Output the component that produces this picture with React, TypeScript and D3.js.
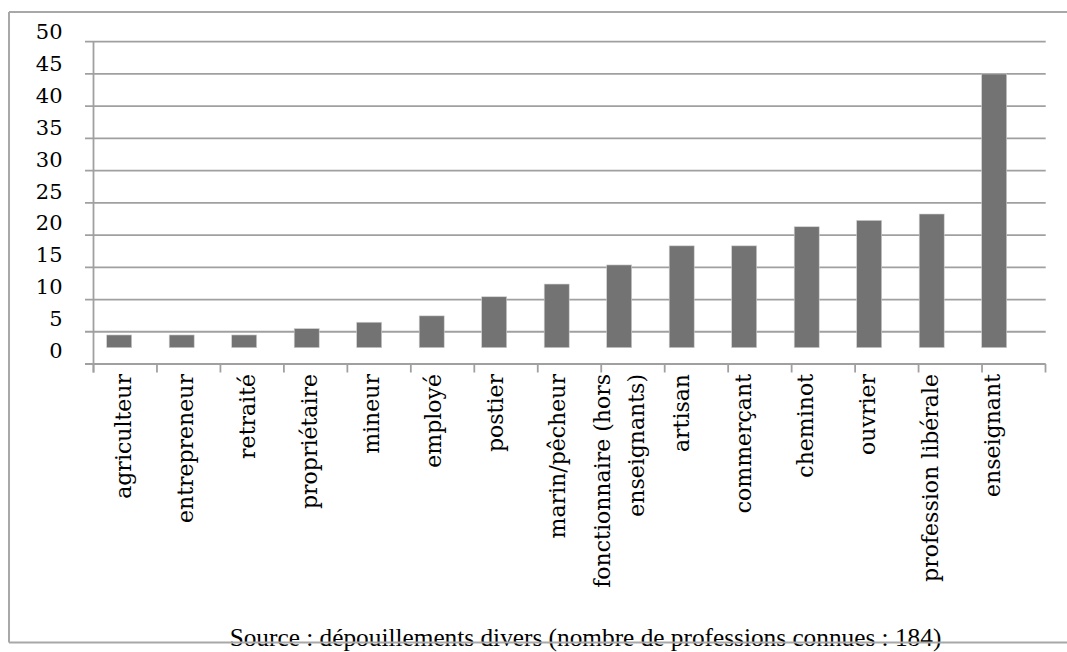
import React from "react";
import * as d3 from "d3";

const categories: string[] = [
  "agriculteur",
  "entrepreneur",
  "retraité",
  "propriétaire",
  "mineur",
  "employé",
  "postier",
  "marin/pêcheur",
  "fonctionnaire (hors|enseignants)",
  "artisan",
  "commerçant",
  "cheminot",
  "ouvrier",
  "profession libérale",
  "enseignant",
];
const values: number[] = [2, 2, 2, 3, 4, 5, 8, 10, 13, 16, 16, 19, 20, 21, 43];
const tickValues: number[] = [0, 5, 10, 15, 20, 25, 30, 35, 40, 45, 50];
const sourceText = "Source : dépouillements divers (nombre de professions connues : 184)";

const W = 1067;
const H = 652;

export default function App() {
  // value scale for bars and tick labels
  const y = d3.scaleLinear().domain([0, 50]).range([347.7, 29.4]);
  // gridline scale (rendered offset in the original)
  const yGrid = d3.scaleLinear().domain([0, 50]).range([364, 41.7]);
  // axis ticks band
  const xAxis = d3.scaleBand<string>().domain(categories).range([93.5, 1045.5]);
  // bars band
  const xBar = d3
    .scaleBand<string>()
    .domain(categories)
    .range([87.95, 1025.45])
    .paddingInner(0.6)
    .paddingOuter(0.3);
  // label positions
  const xLabel = d3.scalePoint<string>().domain(categories).range([125, 993.6]);

  const gridColor = "#a0a0a0";
  const serif = "'DejaVu Serif', serif";

  const axisTicks = categories.map((c) => xAxis(c) as number).concat([xAxis.range()[1]]);

  return (
    <svg
      width={W}
      height={H}
      style={{ position: "absolute", left: 0, top: 0, display: "block", background: "#fff" }}
    >
      <rect x={0} y={0} width={W} height={H} fill="#fff" />
      {/* gridlines */}
      {tickValues.map((t) => (
        <line
          key={"g" + t}
          x1={85}
          x2={1045.7}
          y1={yGrid(t)}
          y2={yGrid(t)}
          stroke={gridColor}
          strokeWidth={1.8}
        />
      ))}
      {/* y axis line */}
      <line x1={93.5} x2={93.5} y1={yGrid(50)} y2={372.5} stroke={gridColor} strokeWidth={1.8} />
      {/* x axis ticks */}
      {axisTicks.map((x, i) => (
        <line key={"t" + i} x1={x} x2={x} y1={364} y2={372.5} stroke={gridColor} strokeWidth={1.8} />
      ))}
      {/* tick labels */}
      {tickValues.map((t) => (
        <text
          key={"l" + t}
          x={62.5}
          y={y(t) + 10}
          textAnchor="end"
          fontFamily={serif}
          fontSize={21}
          fill="#000"
        >
          {t}
        </text>
      ))}
      {/* bars */}
      {categories.map((c, i) => (
        <rect
          key={"b" + c}
          x={xBar(c) as number}
          y={y(values[i])}
          width={xBar.bandwidth()}
          height={y(0) - y(values[i])}
          fill="#737373"
          stroke="#d0d0d0"
          strokeWidth={0.6}
        />
      ))}
      {/* category labels */}
      {categories.map((c) => {
        const lines = c.split("|");
        const cx = xLabel(c) as number;
        const spacing = 34;
        return (
          <g key={"c" + c}>
            {lines.map((ln, j) => {
              const off = (j - (lines.length - 1) / 2) * spacing;
              return (
                <text
                  key={j}
                  transform={`translate(${cx + off},374) rotate(-90)`}
                  textAnchor="end"
                  dy="0.27em"
                  fontFamily={serif}
                  fontSize={22}
                  fill="#000"
                >
                  {ln}
                </text>
              );
            })}
          </g>
        );
      })}
      {/* source */}
      <text
        x={585.5}
        y={646}
        textAnchor="middle"
        fontFamily="'Liberation Serif', 'Times New Roman', serif"
        fontSize={25.3}
        fill="#000"
      >
        {sourceText}
      </text>
      {/* outer frame */}
      <line x1={9} x2={W} y1={12} y2={12} stroke="#a8a8a8" strokeWidth={2} />
      <line x1={9} x2={9} y1={12} y2={642.5} stroke="#a8a8a8" strokeWidth={2} />
      <line x1={9} x2={W} y1={642.5} y2={642.5} stroke="#a8a8a8" strokeWidth={2} />
    </svg>
  );
}
